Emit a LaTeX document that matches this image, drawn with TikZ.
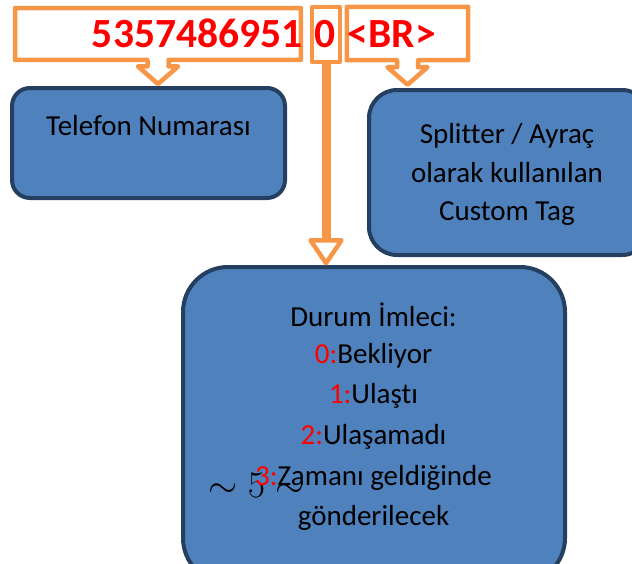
\RequirePackage{fix-cm}
\documentclass[tikz,border=0pt]{standalone}
\usepackage[no-math]{fontspec}
\setmainfont{Carlito}[Ligatures=NoCommon]
\usetikzlibrary{positioning}

\definecolor{tagorange}{HTML}{F79646}
\definecolor{boxblue}{HTML}{4F81BD}
\definecolor{boxedge}{HTML}{243F60}

\begin{document}
\begin{tikzpicture}[x=1pt, y=-1pt]
        % Setup the styles for the boxes, the callouts and the texts
        \tikzset{box style/.style={draw=boxedge,
                                   fill=boxblue,
                                   line width=4pt,
                                   inner sep=0pt},
                 callout style/.style={draw=tagorange,
                                       line width=4.5pt,
                                       line join=round},
                 red text/.style={text=red,
                                  inner sep=0pt,
                                  font=\fontsize{41.5}{48}\selectfont\bfseries},
                 box text/.style={inner sep=0pt,
                                  anchor=base,
                                  font=\fontsize{29}{35}\selectfont}}

        \useasboundingbox (0,0) rectangle (632,563);
        \clip (0,0) rectangle (632,563);

        % Draw the blue boxes
        \node[box style, rounded corners=18pt, minimum width=273pt, minimum height=110pt] at (148.5, 143)   (tel)   {};
        \node[box style, rounded corners=28pt, minimum width=281pt, minimum height=165pt] at (509.5, 172.5) (split) {};
        \node[box style, rounded corners=45pt, minimum width=382pt, minimum height=316pt] at (374, 425)     (durum) {};

        % Texts of the boxes
        \node[box text] at (148.5, 135) (telefon) {Telefon Numarası};
        \node[box text] at (507, 143) (split1) {Splitter / Ayraç};
        \node[box text] at (507, 182) (split2) {olarak kullanılan};
        \node[box text] at (507, 220) (split3) {Custom Tag};
        \node[box text, anchor=base west, font=\fontsize{37.5}{44}\selectfont] at (208, 497) (page) {$\sim 5\sim$};
        \node[box text] at (373.5, 326) (durum1) {Durum İmleci:};
        \node[box text] at (373.5, 363) (durum2) {\textcolor{red}{0:}Bekliyor};
        \node[box text] at (373.5, 403) (durum3) {\textcolor{red}{1:}Ulaştı};
        \node[box text] at (373.5, 444) (durum4) {\textcolor{red}{2:}Ulaşamadı};
        \node[box text] at (373.5, 485) (durum5) {\textcolor{red}{3:}Zamanı geldiğinde};
        \node[box text] at (373.5, 525) (durum6) {gönderilecek};

        % Draw the callouts
        \node[inner sep=0pt, minimum width=285.5pt, minimum height=51.5pt] at (158, 34) (numbox) {};
        \node[callout style, inner sep=0pt, minimum width=28pt, minimum height=55pt] at (326, 34.5) (statebox) {};
        \node[inner sep=0pt, minimum width=121pt, minimum height=53pt] at (407.5, 33.5) (tagbox) {};

        \draw[callout style] ([xshift=-10.5pt]numbox.south) -- (numbox.south west) -- (numbox.north west)
            -- (numbox.north east) -- (numbox.south east) -- ([xshift=10.5pt]numbox.south)
            -- ++(0,6.5) -- ++(9.5,0) -- ++(-20,17.5) -- ++(-20,-17.5) -- ++(9.5,0) -- cycle;
        \draw[callout style] ([xshift=-10.5pt]tagbox.south) -- (tagbox.south west) -- (tagbox.north west)
            -- (tagbox.north east) -- (tagbox.south east) -- ([xshift=10.5pt]tagbox.south)
            -- ++(0,7) -- ++(9.5,0) -- ++(-20,17.5) -- ++(-20,-17.5) -- ++(9.5,0) -- cycle;
        \draw[draw=tagorange, line width=9pt] (statebox.south) -- ++(0,176) coordinate (statehead);
        \draw[callout style, fill=white] (statehead) ++(-15.5,0) -- ++(31,0) -- ++(-15.5,23) -- cycle;

        % Texts of the callouts
        \node[red text, anchor=base east] at (302.5, 47) (number) {5357486951};
        \node[red text, anchor=base] at (325.5, 47) (state) {0};
        \node[red text, anchor=base west] at (347.5, 47) (tag) {<BR>};
\end{tikzpicture}
\end{document}
